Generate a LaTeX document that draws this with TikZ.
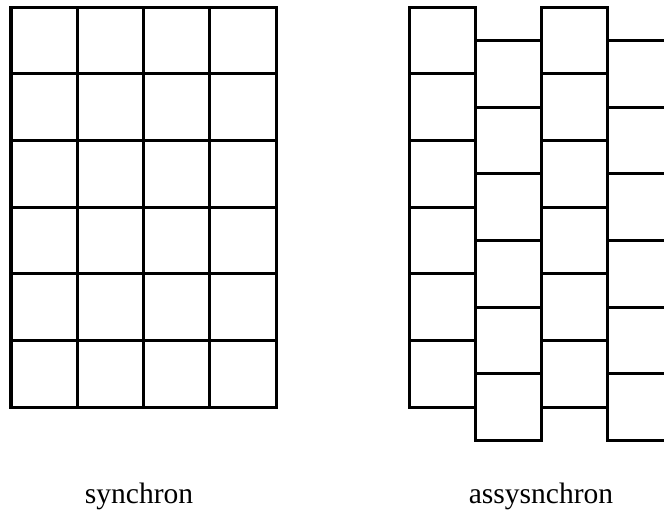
\documentclass[tikz,border=0pt]{standalone}
\usepackage{fontspec}
\setmainfont{Liberation Serif}
\begin{document}
\begin{tikzpicture}[x=0.01cm,y=-0.01cm,line width=0.03cm]
\tikzstyle{every node}+=[inner sep=0pt,font=\fontsize{8.4}{10}\selectfont]
\useasboundingbox (0,0) rectangle (664,511);
\clip (0,0) rectangle (664,511);
% synchron grid
\foreach \i in {0,...,3}
  \foreach \j in {0,...,5}
    \draw [black] (11+66.25*\i,7+66.67*\j) rectangle +(66.25,66.67);
% assysnchron columns, every second one shifted by half a cell
\foreach \i/\dy in {0/0,1/33.33,2/0,3/33.33}
  \foreach \j in {0,...,5}
    \draw [black] (409+66*\i,7+\dy+66.67*\j) rectangle +(66,66.67);
\node (syn) at (139,503) [anchor=base] {synchron};
\node (asyn) at (541,503) [anchor=base] {assysnchron};
\end{tikzpicture}
\end{document}
